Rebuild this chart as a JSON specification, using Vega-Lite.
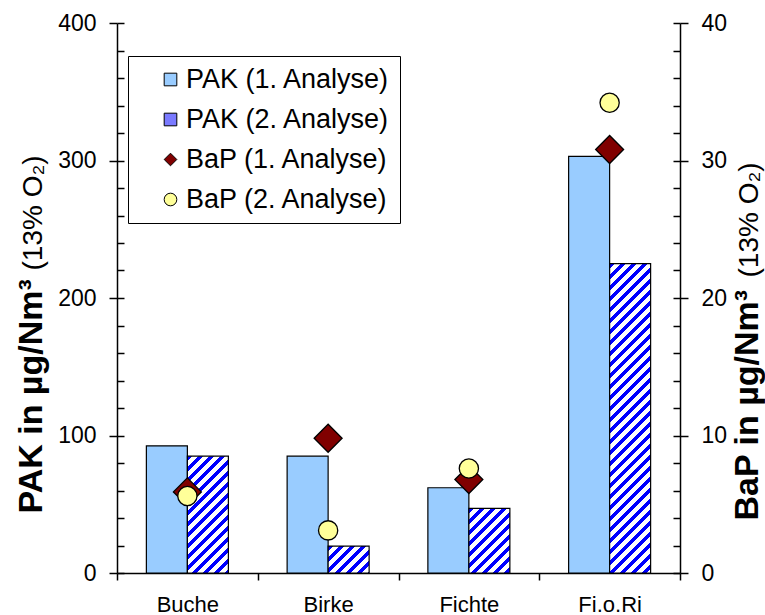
{
  "$schema": "https://vega.github.io/schema/vega-lite/v6.json",
  "width": 563,
  "height": 550,
  "autosize": {"type": "none"},
  "padding": {"left": 117, "top": 23, "right": 85, "bottom": 42},
  "config": {
    "font": "Liberation Sans",
    "view": {"stroke": null},
    "axis": {"domainColor": "black", "domainWidth": 1.5, "tickColor": "black", "tickWidth": 1.5, "labelColor": "black", "titleColor": "black", "grid": false, "labelFont": "Liberation Sans", "titleFont": "Liberation Sans"},
    "legend": {"title": null, "orient": "none", "legendX": 11, "legendY": 33, "padding": 10,
      "strokeColor": "black", "fillColor": "white", "labelFontSize": 27, "labelColor": "black", "labelLimit": 0,
      "rowPadding": 12, "symbolOffset": 19, "labelOffset": 2, "symbolSize": 160,
      "symbolStrokeColor": "black", "symbolStrokeWidth": 1}
  },
  "data": {"values": [
    {"cat": "Buche", "series": "PAK (1. Analyse)", "value": 92.5},
    {"cat": "Birke", "series": "PAK (1. Analyse)", "value": 85},
    {"cat": "Fichte", "series": "PAK (1. Analyse)", "value": 62},
    {"cat": "Fi.o.Ri", "series": "PAK (1. Analyse)", "value": 303},
    {"cat": "Buche", "series": "PAK (2. Analyse)", "value": 85},
    {"cat": "Birke", "series": "PAK (2. Analyse)", "value": 19.6},
    {"cat": "Fichte", "series": "PAK (2. Analyse)", "value": 47},
    {"cat": "Fi.o.Ri", "series": "PAK (2. Analyse)", "value": 225},
    {"cat": "Buche", "series": "BaP (1. Analyse)", "value": 5.9},
    {"cat": "Birke", "series": "BaP (1. Analyse)", "value": 9.8},
    {"cat": "Fichte", "series": "BaP (1. Analyse)", "value": 6.8},
    {"cat": "Fi.o.Ri", "series": "BaP (1. Analyse)", "value": 30.8},
    {"cat": "Buche", "series": "BaP (2. Analyse)", "value": 5.6},
    {"cat": "Birke", "series": "BaP (2. Analyse)", "value": 3.1},
    {"cat": "Fichte", "series": "BaP (2. Analyse)", "value": 7.6},
    {"cat": "Fi.o.Ri", "series": "BaP (2. Analyse)", "value": 34.2}
  ]},
  "encoding": {
    "x": {
      "field": "cat", "type": "nominal",
      "sort": ["Buche", "Birke", "Fichte", "Fi.o.Ri"],
      "scale": {"paddingInner": 0, "paddingOuter": 0},
      "axis": {"title": null, "labelAngle": 0, "labelFontSize": 22, "tickBand": "extent", "tickSize": 7, "labelPadding": 14,
        "encode": {"ticks": {"update": {"y": {"value": -7}}}}}
    },
    "color": {"field": "series", "type": "nominal",
      "scale": {"domain": ["PAK (1. Analyse)", "PAK (2. Analyse)", "BaP (1. Analyse)", "BaP (2. Analyse)"],
        "range": ["#99CCFF", "#7A7AFF", "#800000", "#FFFF99"]}}
  },
  "layer": [
    {
      "transform": [{"filter": "datum.series === 'PAK (1. Analyse)'"}],
      "mark": {"type": "bar", "stroke": "black", "strokeWidth": 1.2},
      "encoding": {
        "xOffset": {"field": "series", "type": "nominal", "scale": {"domain": ["PAK (1. Analyse)", "PAK (2. Analyse)"], "paddingInner": 0, "paddingOuter": 0.7165}},
        "y": {"field": "value", "type": "quantitative", "scale": {"domain": [0, 400], "nice": false},
          "axis": {"orient": "left", "values": [0, 100, 200, 300, 400], "labelFontSize": 23,
            "tickSize": 8, "labelPadding": 13,
            "title": "PAK in µg/Nm³", "titleFontSize": 34, "titleFontWeight": "bold", "titleAngle": -90,
            "titleAlign": "left", "titleBaseline": "alphabetic", "titleX": -76, "titleY": 490}}
      }
    },
    {
      "transform": [{"filter": "datum.series === 'PAK (2. Analyse)'"}],
      "mark": {"type": "bar", "stroke": "black", "strokeWidth": 1.2},
      "encoding": {
        "xOffset": {"field": "series", "type": "nominal", "scale": {"domain": ["PAK (1. Analyse)", "PAK (2. Analyse)"], "paddingInner": 0, "paddingOuter": 0.7165}},
        "y": {"field": "value", "type": "quantitative", "scale": {"domain": [0, 400], "nice": false},
          "axis": {"orient": "left", "labels": false, "ticks": true, "tickSize": -7, "domain": false,
            "values": [0,20,40,60,80,100,120,140,160,180,200,220,240,260,280,300,320,340,360,380,400],
            "title": "(13% O₂)", "titleFontSize": 28, "titleFontWeight": "normal", "titleAngle": -90,
            "titleAlign": "left", "titleBaseline": "alphabetic", "titleX": -76, "titleY": 247}},
        "color": {"field": "series", "type": "nominal",
          "condition": [
            {"test": "datum.cat === 'Buche'", "value": {"gradient": "linear", "x1": 0, "y1": 0, "x2": 0.4219, "y2": 1.2028, "stops": [
              {"offset": 0, "color": "#0000FF"}, {"offset": 0.0314, "color": "#0000FF"}, {"offset": 0.0314, "color": "#FFFFFF"}, {"offset": 0.0697, "color": "#FFFFFF"},
              {"offset": 0.0697, "color": "#0000FF"}, {"offset": 0.101, "color": "#0000FF"}, {"offset": 0.101, "color": "#FFFFFF"}, {"offset": 0.1393, "color": "#FFFFFF"},
              {"offset": 0.1393, "color": "#0000FF"}, {"offset": 0.1707, "color": "#0000FF"}, {"offset": 0.1707, "color": "#FFFFFF"}, {"offset": 0.209, "color": "#FFFFFF"},
              {"offset": 0.209, "color": "#0000FF"}, {"offset": 0.2403, "color": "#0000FF"}, {"offset": 0.2403, "color": "#FFFFFF"}, {"offset": 0.2786, "color": "#FFFFFF"},
              {"offset": 0.2786, "color": "#0000FF"}, {"offset": 0.31, "color": "#0000FF"}, {"offset": 0.31, "color": "#FFFFFF"}, {"offset": 0.3483, "color": "#FFFFFF"},
              {"offset": 0.3483, "color": "#0000FF"}, {"offset": 0.3797, "color": "#0000FF"}, {"offset": 0.3797, "color": "#FFFFFF"}, {"offset": 0.418, "color": "#FFFFFF"},
              {"offset": 0.418, "color": "#0000FF"}, {"offset": 0.4493, "color": "#0000FF"}, {"offset": 0.4493, "color": "#FFFFFF"}, {"offset": 0.4876, "color": "#FFFFFF"},
              {"offset": 0.4876, "color": "#0000FF"}, {"offset": 0.519, "color": "#0000FF"}, {"offset": 0.519, "color": "#FFFFFF"}, {"offset": 0.5573, "color": "#FFFFFF"},
              {"offset": 0.5573, "color": "#0000FF"}, {"offset": 0.5886, "color": "#0000FF"}, {"offset": 0.5886, "color": "#FFFFFF"}, {"offset": 0.6269, "color": "#FFFFFF"},
              {"offset": 0.6269, "color": "#0000FF"}, {"offset": 0.6583, "color": "#0000FF"}, {"offset": 0.6583, "color": "#FFFFFF"}, {"offset": 0.6966, "color": "#FFFFFF"},
              {"offset": 0.6966, "color": "#0000FF"}, {"offset": 0.728, "color": "#0000FF"}, {"offset": 0.728, "color": "#FFFFFF"}, {"offset": 0.7663, "color": "#FFFFFF"},
              {"offset": 0.7663, "color": "#0000FF"}, {"offset": 0.7976, "color": "#0000FF"}, {"offset": 0.7976, "color": "#FFFFFF"}, {"offset": 0.8359, "color": "#FFFFFF"},
              {"offset": 0.8359, "color": "#0000FF"}, {"offset": 0.8673, "color": "#0000FF"}, {"offset": 0.8673, "color": "#FFFFFF"}, {"offset": 0.9056, "color": "#FFFFFF"},
              {"offset": 0.9056, "color": "#0000FF"}, {"offset": 0.9369, "color": "#0000FF"}, {"offset": 0.9369, "color": "#FFFFFF"}, {"offset": 0.9752, "color": "#FFFFFF"},
              {"offset": 0.9752, "color": "#0000FF"}, {"offset": 1, "color": "#0000FF"}]}},
            {"test": "datum.cat === 'Birke'", "value": {"gradient": "linear", "x1": 0, "y1": 0, "x2": 1.1573, "y2": 0.7607, "stops": [
              {"offset": 0, "color": "#0000FF"}, {"offset": 0.0729, "color": "#0000FF"}, {"offset": 0.0729, "color": "#FFFFFF"}, {"offset": 0.1619, "color": "#FFFFFF"},
              {"offset": 0.1619, "color": "#0000FF"}, {"offset": 0.2347, "color": "#0000FF"}, {"offset": 0.2347, "color": "#FFFFFF"}, {"offset": 0.3238, "color": "#FFFFFF"},
              {"offset": 0.3238, "color": "#0000FF"}, {"offset": 0.3966, "color": "#0000FF"}, {"offset": 0.3966, "color": "#FFFFFF"}, {"offset": 0.4856, "color": "#FFFFFF"},
              {"offset": 0.4856, "color": "#0000FF"}, {"offset": 0.5585, "color": "#0000FF"}, {"offset": 0.5585, "color": "#FFFFFF"}, {"offset": 0.6475, "color": "#FFFFFF"},
              {"offset": 0.6475, "color": "#0000FF"}, {"offset": 0.7204, "color": "#0000FF"}, {"offset": 0.7204, "color": "#FFFFFF"}, {"offset": 0.8094, "color": "#FFFFFF"},
              {"offset": 0.8094, "color": "#0000FF"}, {"offset": 0.8823, "color": "#0000FF"}, {"offset": 0.8823, "color": "#FFFFFF"}, {"offset": 0.9713, "color": "#FFFFFF"},
              {"offset": 0.9713, "color": "#0000FF"}, {"offset": 1, "color": "#0000FF"}]}},
            {"test": "datum.cat === 'Fichte'", "value": {"gradient": "linear", "x1": 0, "y1": 0, "x2": 0.7396, "y2": 1.1653, "stops": [
              {"offset": 0, "color": "#0000FF"}, {"offset": 0.0469, "color": "#0000FF"}, {"offset": 0.0469, "color": "#FFFFFF"}, {"offset": 0.1042, "color": "#FFFFFF"},
              {"offset": 0.1042, "color": "#0000FF"}, {"offset": 0.151, "color": "#0000FF"}, {"offset": 0.151, "color": "#FFFFFF"}, {"offset": 0.2083, "color": "#FFFFFF"},
              {"offset": 0.2083, "color": "#0000FF"}, {"offset": 0.2552, "color": "#0000FF"}, {"offset": 0.2552, "color": "#FFFFFF"}, {"offset": 0.3125, "color": "#FFFFFF"},
              {"offset": 0.3125, "color": "#0000FF"}, {"offset": 0.3594, "color": "#0000FF"}, {"offset": 0.3594, "color": "#FFFFFF"}, {"offset": 0.4167, "color": "#FFFFFF"},
              {"offset": 0.4167, "color": "#0000FF"}, {"offset": 0.4635, "color": "#0000FF"}, {"offset": 0.4635, "color": "#FFFFFF"}, {"offset": 0.5208, "color": "#FFFFFF"},
              {"offset": 0.5208, "color": "#0000FF"}, {"offset": 0.5677, "color": "#0000FF"}, {"offset": 0.5677, "color": "#FFFFFF"}, {"offset": 0.625, "color": "#FFFFFF"},
              {"offset": 0.625, "color": "#0000FF"}, {"offset": 0.6719, "color": "#0000FF"}, {"offset": 0.6719, "color": "#FFFFFF"}, {"offset": 0.7292, "color": "#FFFFFF"},
              {"offset": 0.7292, "color": "#0000FF"}, {"offset": 0.776, "color": "#0000FF"}, {"offset": 0.776, "color": "#FFFFFF"}, {"offset": 0.8333, "color": "#FFFFFF"},
              {"offset": 0.8333, "color": "#0000FF"}, {"offset": 0.8802, "color": "#0000FF"}, {"offset": 0.8802, "color": "#FFFFFF"}, {"offset": 0.9375, "color": "#FFFFFF"},
              {"offset": 0.9375, "color": "#0000FF"}, {"offset": 0.9844, "color": "#0000FF"}, {"offset": 0.9844, "color": "#FFFFFF"}, {"offset": 1, "color": "#FFFFFF"}]}},
            {"test": "datum.cat === 'Fi.o.Ri'", "value": {"gradient": "linear", "x1": 0, "y1": 0, "x2": 0.1475, "y2": 1.113, "stops": [
              {"offset": 0, "color": "#0000FF"}, {"offset": 0.0141, "color": "#0000FF"}, {"offset": 0.0141, "color": "#FFFFFF"}, {"offset": 0.0314, "color": "#FFFFFF"},
              {"offset": 0.0314, "color": "#0000FF"}, {"offset": 0.0455, "color": "#0000FF"}, {"offset": 0.0455, "color": "#FFFFFF"}, {"offset": 0.0628, "color": "#FFFFFF"},
              {"offset": 0.0628, "color": "#0000FF"}, {"offset": 0.0769, "color": "#0000FF"}, {"offset": 0.0769, "color": "#FFFFFF"}, {"offset": 0.0942, "color": "#FFFFFF"},
              {"offset": 0.0942, "color": "#0000FF"}, {"offset": 0.1083, "color": "#0000FF"}, {"offset": 0.1083, "color": "#FFFFFF"}, {"offset": 0.1256, "color": "#FFFFFF"},
              {"offset": 0.1256, "color": "#0000FF"}, {"offset": 0.1397, "color": "#0000FF"}, {"offset": 0.1397, "color": "#FFFFFF"}, {"offset": 0.157, "color": "#FFFFFF"},
              {"offset": 0.157, "color": "#0000FF"}, {"offset": 0.1711, "color": "#0000FF"}, {"offset": 0.1711, "color": "#FFFFFF"}, {"offset": 0.1884, "color": "#FFFFFF"},
              {"offset": 0.1884, "color": "#0000FF"}, {"offset": 0.2025, "color": "#0000FF"}, {"offset": 0.2025, "color": "#FFFFFF"}, {"offset": 0.2198, "color": "#FFFFFF"},
              {"offset": 0.2198, "color": "#0000FF"}, {"offset": 0.2339, "color": "#0000FF"}, {"offset": 0.2339, "color": "#FFFFFF"}, {"offset": 0.2511, "color": "#FFFFFF"},
              {"offset": 0.2511, "color": "#0000FF"}, {"offset": 0.2653, "color": "#0000FF"}, {"offset": 0.2653, "color": "#FFFFFF"}, {"offset": 0.2825, "color": "#FFFFFF"},
              {"offset": 0.2825, "color": "#0000FF"}, {"offset": 0.2967, "color": "#0000FF"}, {"offset": 0.2967, "color": "#FFFFFF"}, {"offset": 0.3139, "color": "#FFFFFF"},
              {"offset": 0.3139, "color": "#0000FF"}, {"offset": 0.3281, "color": "#0000FF"}, {"offset": 0.3281, "color": "#FFFFFF"}, {"offset": 0.3453, "color": "#FFFFFF"},
              {"offset": 0.3453, "color": "#0000FF"}, {"offset": 0.3595, "color": "#0000FF"}, {"offset": 0.3595, "color": "#FFFFFF"}, {"offset": 0.3767, "color": "#FFFFFF"},
              {"offset": 0.3767, "color": "#0000FF"}, {"offset": 0.3908, "color": "#0000FF"}, {"offset": 0.3908, "color": "#FFFFFF"}, {"offset": 0.4081, "color": "#FFFFFF"},
              {"offset": 0.4081, "color": "#0000FF"}, {"offset": 0.4222, "color": "#0000FF"}, {"offset": 0.4222, "color": "#FFFFFF"}, {"offset": 0.4395, "color": "#FFFFFF"},
              {"offset": 0.4395, "color": "#0000FF"}, {"offset": 0.4536, "color": "#0000FF"}, {"offset": 0.4536, "color": "#FFFFFF"}, {"offset": 0.4709, "color": "#FFFFFF"},
              {"offset": 0.4709, "color": "#0000FF"}, {"offset": 0.485, "color": "#0000FF"}, {"offset": 0.485, "color": "#FFFFFF"}, {"offset": 0.5023, "color": "#FFFFFF"},
              {"offset": 0.5023, "color": "#0000FF"}, {"offset": 0.5164, "color": "#0000FF"}, {"offset": 0.5164, "color": "#FFFFFF"}, {"offset": 0.5337, "color": "#FFFFFF"},
              {"offset": 0.5337, "color": "#0000FF"}, {"offset": 0.5478, "color": "#0000FF"}, {"offset": 0.5478, "color": "#FFFFFF"}, {"offset": 0.5651, "color": "#FFFFFF"},
              {"offset": 0.5651, "color": "#0000FF"}, {"offset": 0.5792, "color": "#0000FF"}, {"offset": 0.5792, "color": "#FFFFFF"}, {"offset": 0.5965, "color": "#FFFFFF"},
              {"offset": 0.5965, "color": "#0000FF"}, {"offset": 0.6106, "color": "#0000FF"}, {"offset": 0.6106, "color": "#FFFFFF"}, {"offset": 0.6279, "color": "#FFFFFF"},
              {"offset": 0.6279, "color": "#0000FF"}, {"offset": 0.642, "color": "#0000FF"}, {"offset": 0.642, "color": "#FFFFFF"}, {"offset": 0.6593, "color": "#FFFFFF"},
              {"offset": 0.6593, "color": "#0000FF"}, {"offset": 0.6734, "color": "#0000FF"}, {"offset": 0.6734, "color": "#FFFFFF"}, {"offset": 0.6906, "color": "#FFFFFF"},
              {"offset": 0.6906, "color": "#0000FF"}, {"offset": 0.7048, "color": "#0000FF"}, {"offset": 0.7048, "color": "#FFFFFF"}, {"offset": 0.722, "color": "#FFFFFF"},
              {"offset": 0.722, "color": "#0000FF"}, {"offset": 0.7362, "color": "#0000FF"}, {"offset": 0.7362, "color": "#FFFFFF"}, {"offset": 0.7534, "color": "#FFFFFF"},
              {"offset": 0.7534, "color": "#0000FF"}, {"offset": 0.7676, "color": "#0000FF"}, {"offset": 0.7676, "color": "#FFFFFF"}, {"offset": 0.7848, "color": "#FFFFFF"},
              {"offset": 0.7848, "color": "#0000FF"}, {"offset": 0.799, "color": "#0000FF"}, {"offset": 0.799, "color": "#FFFFFF"}, {"offset": 0.8162, "color": "#FFFFFF"},
              {"offset": 0.8162, "color": "#0000FF"}, {"offset": 0.8303, "color": "#0000FF"}, {"offset": 0.8303, "color": "#FFFFFF"}, {"offset": 0.8476, "color": "#FFFFFF"},
              {"offset": 0.8476, "color": "#0000FF"}, {"offset": 0.8617, "color": "#0000FF"}, {"offset": 0.8617, "color": "#FFFFFF"}, {"offset": 0.879, "color": "#FFFFFF"},
              {"offset": 0.879, "color": "#0000FF"}, {"offset": 0.8931, "color": "#0000FF"}, {"offset": 0.8931, "color": "#FFFFFF"}, {"offset": 0.9104, "color": "#FFFFFF"},
              {"offset": 0.9104, "color": "#0000FF"}, {"offset": 0.9245, "color": "#0000FF"}, {"offset": 0.9245, "color": "#FFFFFF"}, {"offset": 0.9418, "color": "#FFFFFF"},
              {"offset": 0.9418, "color": "#0000FF"}, {"offset": 0.9559, "color": "#0000FF"}, {"offset": 0.9559, "color": "#FFFFFF"}, {"offset": 0.9732, "color": "#FFFFFF"},
              {"offset": 0.9732, "color": "#0000FF"}, {"offset": 0.9873, "color": "#0000FF"}, {"offset": 0.9873, "color": "#FFFFFF"}, {"offset": 1, "color": "#FFFFFF"}]}}
          ]
        }
      }
    },
    {
      "transform": [{"filter": "datum.series === 'BaP (1. Analyse)'"}],
      "mark": {"type": "point", "filled": true, "opacity": 1, "size": 780, "stroke": "black", "strokeWidth": 1.3},
      "encoding": {
        "y": {"field": "value", "type": "quantitative", "scale": {"domain": [0, 40], "nice": false},
          "axis": {"orient": "right", "values": [0, 10, 20, 30, 40], "labelFontSize": 23,
            "tickSize": 8, "labelPadding": 13,
            "title": "BaP in µg/Nm³", "titleFontSize": 34, "titleFontWeight": "bold", "titleAngle": -90,
            "titleAlign": "left", "titleBaseline": "alphabetic", "titleX": 77, "titleY": 497}},
        "shape": {"field": "series", "type": "nominal",
          "scale": {"domain": ["PAK (1. Analyse)", "PAK (2. Analyse)", "BaP (1. Analyse)", "BaP (2. Analyse)"], "range": ["square", "square", "diamond", "circle"]}}
      }
    },
    {
      "transform": [{"filter": "datum.series === 'BaP (2. Analyse)'"}],
      "mark": {"type": "point", "filled": true, "opacity": 1, "size": 370, "stroke": "black", "strokeWidth": 1.3},
      "encoding": {
        "y": {"field": "value", "type": "quantitative", "scale": {"domain": [0, 40], "nice": false},
          "axis": {"orient": "right", "labels": false, "ticks": true, "tickSize": -7, "domain": false,
            "values": [0,2,4,6,8,10,12,14,16,18,20,22,24,26,28,30,32,34,36,38,40],
            "title": "(13% O₂)", "titleFontSize": 28, "titleFontWeight": "normal", "titleAngle": -90,
            "titleAlign": "left", "titleBaseline": "alphabetic", "titleX": 77, "titleY": 254}},
        "shape": {"field": "series", "type": "nominal",
          "scale": {"domain": ["PAK (1. Analyse)", "PAK (2. Analyse)", "BaP (1. Analyse)", "BaP (2. Analyse)"], "range": ["square", "square", "diamond", "circle"]}}
      }
    }
  ],
  "resolve": {"scale": {"y": "independent"}, "axis": {"y": "independent"}}
}
